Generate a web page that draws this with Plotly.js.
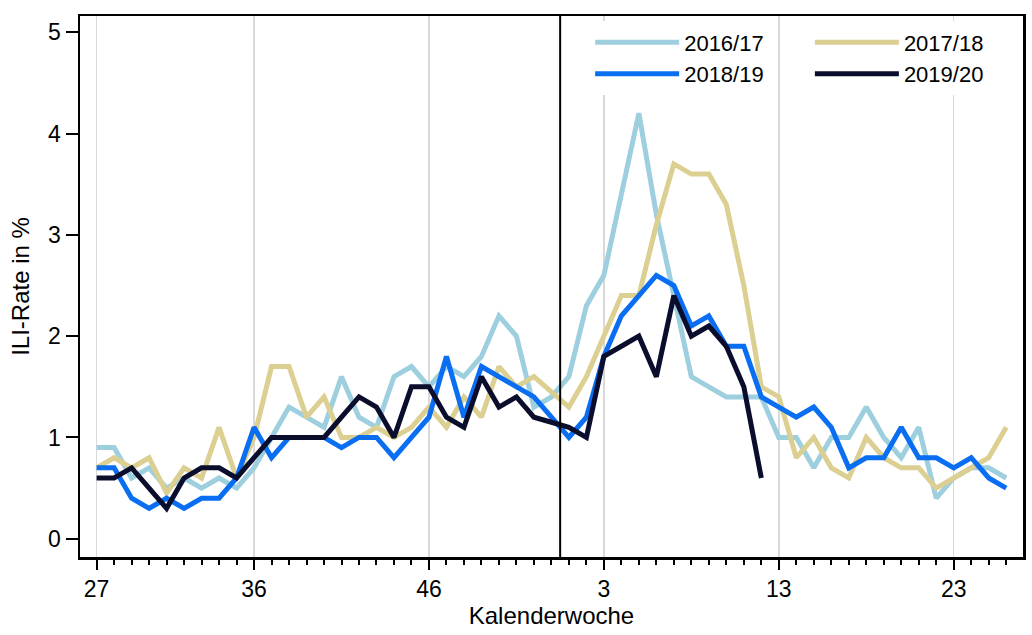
<!DOCTYPE html>
<html>
<head>
<meta charset="utf-8">
<script src="https://cdn.plot.ly/plotly-3.0.1.min.js"></script>
<style>html,body{margin:0;padding:0;background:#fff;}#chart{width:1032px;height:635px;}</style>
</head>
<body>
<div id="chart"></div>
<script>
// Calendar weeks (season runs from week 27 to week 26 of the following year)
const weeks = [27,28,29,30,31,32,33,34,35,36,37,38,39,40,41,42,43,44,45,46,47,48,49,50,51,52,53,
               1,2,3,4,5,6,7,8,9,10,11,12,13,14,15,16,17,18,19,20,21,22,23,24,25,26];
const tickWeeks = [27,36,46,3,13,23];
const seasonNames = ["2016/17","2017/18","2018/19","2019/20"];

const s2016 = [0.9,0.9,0.6,0.7,0.5,0.6,0.5,0.6,0.5,0.7,1.0,1.3,1.2,1.1,1.6,1.2,1.1,1.6,1.7,1.5,1.7,1.6,1.8,2.2,2.0,1.3,1.4,
               1.6,2.3,2.6,3.4,4.2,3.2,2.4,1.6,1.5,1.4,1.4,1.4,1.0,1.0,0.7,1.0,1.0,1.3,1.0,0.8,1.1,0.4,0.6,0.7,0.7,0.6];
const s2017 = [0.7,0.8,0.7,0.8,0.45,0.7,0.6,1.1,0.6,1.0,1.7,1.7,1.2,1.4,1.0,1.0,1.1,1.0,1.1,1.3,1.1,1.4,1.2,1.7,1.5,1.6,1.45,
               1.3,1.6,2.0,2.4,2.4,3.1,3.7,3.6,3.6,3.3,2.5,1.5,1.4,0.8,1.0,0.7,0.6,1.0,0.8,0.7,0.7,0.5,0.6,0.7,0.8,1.1];
const s2018 = [0.7,0.7,0.4,0.3,0.4,0.3,0.4,0.4,0.6,1.1,0.8,1.0,1.0,1.0,0.9,1.0,1.0,0.8,1.0,1.2,1.8,1.2,1.7,1.6,1.5,1.4,1.2,
               1.0,1.2,1.8,2.2,2.4,2.6,2.5,2.1,2.2,1.9,1.9,1.4,1.3,1.2,1.3,1.1,0.7,0.8,0.8,1.1,0.8,0.8,0.7,0.8,0.6,0.5];
const s2019 = [0.6,0.6,0.7,0.5,0.3,0.6,0.7,0.7,0.6,0.8,1.0,1.0,1.0,1.0,1.2,1.4,1.3,1.0,1.5,1.5,1.2,1.1,1.6,1.3,1.4,1.2,1.15,
               1.1,1.0,1.8,1.9,2.0,1.6,2.4,2.0,2.1,1.9,1.5,0.6,null,null,null,null,null,null,null,null,null,null,null,null,null,null];
const yTicks = [0,1,2,3,4,5];

const colors = ["#9dcfdf","#dccf92","#0a6ef2","#0b0d2c"];
const series = [s2016, s2017, s2018, s2019];
const legendOf = ["legend","legend2","legend","legend2"];

const xIdx = weeks.map((w,i)=>i);
const traces = series.map((s,k)=>({
  type:"scatter", mode:"lines", x:xIdx, y:s, name:seasonNames[k],
  line:{color:colors[k], width:5}, legend:legendOf[k], connectgaps:false,
  hoverinfo:"x+y"
}));

const tickIdx = tickWeeks.map(w=>weeks.indexOf(w));
const boundary = weeks.indexOf(1) - 0.5;

const font = "Liberation Sans, Arial, Helvetica, sans-serif";
const legendBase = {
  font:{family:font, size:22, color:"#000"},
  bgcolor:"#ffffff", borderwidth:0, yanchor:"top", xanchor:"left",
  tracegroupgap:0, itemwidth:84, traceorder:"normal"
};

const layout = {
  width:1032, height:635,
  margin:{l:80, r:9, t:16, b:78},
  paper_bgcolor:"#fff", plot_bgcolor:"#fff",
  font:{family:font, color:"#000"},
  showlegend:true,
  legend:Object.assign({}, legendBase, {x:0.541, y:0.99}),
  legend2:Object.assign({}, legendBase, {x:0.774, y:0.99}),
  xaxis:{
    range:[-0.95, 52.96], tickmode:"array", tickvals:tickIdx, ticktext:tickWeeks.map(String),
    ticks:"outside", ticklen:10, tickwidth:2, tickcolor:"#000",
    tickfont:{family:font, size:23, color:"#000"},
    showgrid:true, gridcolor:"#d9d9d9", gridwidth:1.5,
    zeroline:false, showline:true, linecolor:"#000", linewidth:2.5, mirror:true,
    minor:{tickmode:"array", tickvals:xIdx, ticks:"outside", ticklen:5, tickwidth:2, tickcolor:"#000", showgrid:false},
    title:{text:"Kalenderwoche", font:{family:font, size:24, color:"#000"}, standoff:4}
  },
  yaxis:{
    range:[-0.18, 5.16], tickmode:"array", tickvals:yTicks,
    ticks:"outside", ticklen:12, tickwidth:2, tickcolor:"#000",
    tickfont:{family:font, size:23, color:"#000"},
    showgrid:false, zeroline:false, showline:true, linecolor:"#000", linewidth:2.5, mirror:true,
    title:{text:"ILI-Rate in %", font:{family:font, size:24, color:"#000"}, standoff:12}
  },
  shapes:[{type:"line", xref:"x", yref:"paper", x0:boundary, x1:boundary, y0:0, y1:1,
           line:{color:"#000", width:2}}]
};

Plotly.newPlot("chart", traces, layout, {displayModeBar:false, staticPlot:true});
</script>
</body>
</html>
